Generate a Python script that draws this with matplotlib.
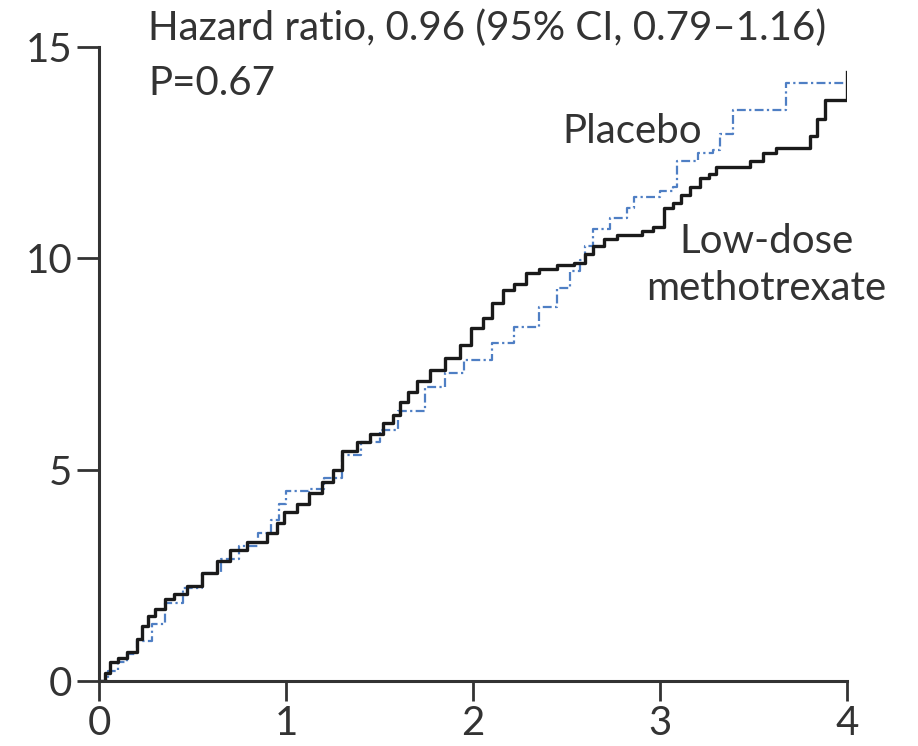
import matplotlib
matplotlib.use('Agg')
import matplotlib.pyplot as plt

# cumulative incidence (%), years since randomization
mtx_years = [0, 0.03, 0.06, 0.1, 0.15, 0.2, 0.23, 0.26, 0.3, 0.35, 0.4, 0.47, 0.55, 0.63,
             0.7, 0.79, 0.9, 0.95, 0.99, 1.06, 1.12, 1.19, 1.25, 1.3, 1.38, 1.45, 1.52,
             1.57, 1.61, 1.65, 1.7, 1.77, 1.85, 1.93, 1.99, 2.05, 2.1, 2.16, 2.22, 2.28,
             2.35, 2.45, 2.54, 2.6, 2.64, 2.7, 2.77, 2.9, 2.96, 3.02, 3.07, 3.11, 3.16,
             3.21, 3.26, 3.3, 3.48, 3.55, 3.62, 3.76, 3.8, 3.84, 3.88, 3.99, 4.0]
mtx_pct = [0, 0.2, 0.45, 0.55, 0.7, 1.0, 1.3, 1.55, 1.7, 1.95, 2.05, 2.25, 2.55, 2.85,
           3.1, 3.3, 3.5, 3.75, 4.0, 4.2, 4.45, 4.7, 5.0, 5.45, 5.65, 5.85, 6.1,
           6.3, 6.6, 6.85, 7.1, 7.35, 7.65, 7.95, 8.35, 8.6, 8.95, 9.25, 9.4, 9.65,
           9.75, 9.85, 9.9, 10.1, 10.3, 10.45, 10.55, 10.65, 10.75, 11.2, 11.3, 11.5, 11.7,
           11.9, 12.0, 12.15, 12.3, 12.5, 12.6, 12.6, 12.9, 13.3, 13.75, 13.75, 14.4]

pbo_years = [0, 0.05, 0.1, 0.15, 0.2, 0.28, 0.35, 0.45, 0.55, 0.65, 0.75, 0.85, 0.92,
             0.96, 1.0, 1.06, 1.12, 1.2, 1.3, 1.4, 1.5, 1.6, 1.74, 1.85, 1.95, 2.1,
             2.22, 2.35, 2.45, 2.52, 2.57, 2.6, 2.64, 2.73, 2.82, 2.86, 3.0, 3.07, 3.09,
             3.2, 3.28, 3.32, 3.39, 3.64, 3.67, 3.98]
pbo_pct = [0, 0.25, 0.45, 0.65, 0.95, 1.35, 1.85, 2.2, 2.55, 2.9, 3.2, 3.5, 3.8,
           4.2, 4.5, 4.5, 4.55, 4.8, 5.35, 5.65, 5.95, 6.4, 6.95, 7.3, 7.6, 8.0,
           8.37, 8.85, 9.3, 9.7, 9.95, 10.3, 10.7, 10.95, 11.2, 11.45, 11.6, 11.7, 12.3,
           12.5, 12.56, 12.95, 13.5, 13.5, 14.15, 14.15]

x_ticks = [0, 1, 2, 3, 4]
y_ticks = [0, 5, 10, 15]

plt.rcParams['font.family'] = ['Lato', 'DejaVu Sans']

fig = plt.figure(figsize=(9.18, 7.46), dpi=100)
ax = fig.add_axes([0.108, 0.087, 0.815, 0.85])

ax.plot(pbo_years, pbo_pct, drawstyle='steps-post', color='#4f7fc4', lw=1.6,
        linestyle=(0, (4, 1.5, 1, 1.5)))
ax.plot(mtx_years, mtx_pct, drawstyle='steps-post', color='#1a1a1a', lw=2.4)

ax.set_xlim(0, 4)
ax.set_ylim(0, 15)
ax.set_xticks(x_ticks)
ax.set_yticks(y_ticks)
ax.tick_params(direction='out', width=2, labelsize=29, colors='#333333')
ax.tick_params(axis='y', length=16, pad=3.5)
ax.tick_params(axis='x', length=14.5, pad=2.5)
for side in ['top', 'right']:
    ax.spines[side].set_visible(False)
for side in ['left', 'bottom']:
    ax.spines[side].set_linewidth(2.2)
    ax.spines[side].set_color('#333333')

txt = dict(fontsize=29, color='#333333', va='baseline', clip_on=False)
ax.text(0.262, 15.16, 'Hazard ratio, 0.96 (95% CI, 0.79\u20131.16)', ha='left', **txt)
ax.text(0.262, 13.86, 'P=0.67', ha='left', **txt)
ax.text(2.476, 12.73, 'Placebo', ha='left', **txt)
ax.text(3.567, 10.13, 'Low-dose', ha='center', **txt)
ax.text(3.567, 9.01, 'methotrexate', ha='center', **txt)

fig.savefig('out.png', dpi=100)
